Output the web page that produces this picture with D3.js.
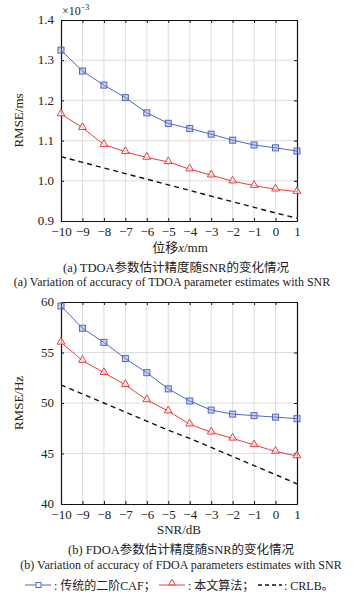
<!DOCTYPE html>
<html><head><meta charset="utf-8">
<script src="https://cdn.jsdelivr.net/npm/d3@7"></script>
<style>body{margin:0;background:#fff}svg{display:block}</style>
</head><body><svg id="c" width="355" height="597" font-family="'Liberation Serif','DejaVu Serif','Noto Sans CJK SC',serif"></svg>
<script>
const snr = [-10,-9,-8,-7,-6,-5,-4,-3,-2,-1,0,1];
const xTickLabels = ["\u221210","\u22129","\u22128","\u22127","\u22126","\u22125","\u22124","\u22123","\u22122","\u22121","0","1"];
// (a) TDOA, units of 1e-3 ms
const tdoaCAF  = [1.325,1.273,1.238,1.207,1.169,1.143,1.130,1.116,1.101,1.089,1.082,1.074];
const tdoaOurs = [1.166,1.132,1.090,1.072,1.058,1.047,1.029,1.014,0.999,0.988,0.979,0.973];
const tdoaCRLB = [1.060,1.046,1.032,1.018,1.004,0.990,0.976,0.962,0.948,0.934,0.920,0.907];
const tdoaYTicks = [0.9,1.0,1.1,1.2,1.3,1.4];
// (b) FDOA, Hz
const fdoaCAF  = [59.6,57.4,56.0,54.4,53.0,51.4,50.2,49.3,48.9,48.75,48.6,48.45];
const fdoaOurs = [56.0,54.2,53.0,51.8,50.3,49.2,47.9,47.1,46.5,45.85,45.2,44.75];
const fdoaCRLB = [51.8,50.9,50.0,49.1,48.2,47.3,46.5,45.6,44.7,43.8,42.9,42.0];
const fdoaYTicks = [40,45,50,55,60];

const FONT="'Liberation Serif','DejaVu Serif','Noto Sans CJK SC',serif";
const BLUE="#5066c8", RED="#ef3b3b";
const svg=d3.select("#c");

function panel(top,bottom,yDomain,yTicks,yFmt,caf,ours,crlb,yTitle){
  const x=d3.scaleLinear().domain([-10,1]).range([61,297]);
  const y=d3.scaleLinear().domain(yDomain).range([bottom,top]);
  const g=svg.append("g");
  g.selectAll(".vg").data(snr.slice(1,-1)).join("line").attr("x1",d=>x(d)).attr("x2",d=>x(d)).attr("y1",top).attr("y2",bottom).attr("stroke","#dcdcdc").attr("stroke-width",1);
  g.selectAll(".hg").data(yTicks.slice(1,-1)).join("line").attr("y1",d=>y(d)).attr("y2",d=>y(d)).attr("x1",x(-10)).attr("x2",x(1)).attr("stroke","#dcdcdc").attr("stroke-width",1);
  const xa=d3.axisBottom(x).tickValues(snr).tickFormat((d,i)=>xTickLabels[i]).tickSizeInner(-3).tickSizeOuter(0).tickPadding(6);
  const ya=d3.axisLeft(y).tickValues(yTicks).tickFormat(yFmt).tickSizeInner(-3).tickSizeOuter(0).tickPadding(7);
  const yr=d3.axisRight(y).tickValues(yTicks).tickFormat("").tickSizeInner(-3).tickSizeOuter(0);
  const xt=d3.axisTop(x).tickValues(snr).tickFormat("").tickSizeInner(-3).tickSizeOuter(0);
  const gx=g.append("g").attr("transform",`translate(0,${bottom})`).call(xa);
  const gy=g.append("g").attr("transform",`translate(${x(-10)},0)`).call(ya);
  g.append("g").attr("transform",`translate(${x(1)},0)`).call(yr);
  g.append("g").attr("transform",`translate(0,${top})`).call(xt);
  g.selectAll("g").attr("font-family",FONT);
  g.selectAll(".domain").attr("stroke","#111").attr("stroke-width",1.2);
  g.selectAll(".tick line").attr("stroke","#111");
  gx.selectAll("text").attr("font-size",13).attr("fill","#222");
  gy.selectAll("text").attr("font-size",13).attr("fill","#222").attr("dy","0.28em");
  g.append("text").attr("transform",`translate(23,${(top+bottom)/2}) rotate(-90)`).attr("text-anchor","middle").attr("font-size",13).attr("fill","#222").text(yTitle);
  const line=d3.line().x((d,i)=>x(snr[i])).y(d=>y(d));
  g.append("path").datum(crlb).attr("d",line).attr("fill","none").attr("stroke","#111").attr("stroke-width",1.4).attr("stroke-dasharray","5,4");
  g.append("path").datum(caf).attr("d",line).attr("fill","none").attr("stroke",BLUE).attr("stroke-width",1);
  g.append("path").datum(ours).attr("d",line).attr("fill","none").attr("stroke",RED).attr("stroke-width",1);
  g.selectAll(".sq").data(caf).join("rect").attr("x",(d,i)=>x(snr[i])-3).attr("y",d=>y(d)-3).attr("width",6).attr("height",6).attr("fill","rgba(120,140,215,0.35)").attr("stroke",BLUE).attr("stroke-width",1);
  const tri=d3.symbol().type(d3.symbolTriangle).size(26);
  g.selectAll(".tr").data(ours).join("path").attr("d",tri).attr("transform",(d,i)=>`translate(${x(snr[i])},${y(d)-0.5})`).attr("fill","rgba(255,255,255,0.6)").attr("stroke",RED).attr("stroke-width",1);
}

panel(20,221,[0.9,1.4],tdoaYTicks,d3.format(".1f"),tdoaCAF,tdoaOurs,tdoaCRLB,"RMSE/ms");
panel(302,504,[40,60],fdoaYTicks,d3.format("d"),fdoaCAF,fdoaOurs,fdoaCRLB,"RMSE/Hz");

const ex=svg.append("text").attr("x",62).attr("y",15).attr("font-size",12).attr("fill","#222");
ex.append("tspan").text("\u00d710");
ex.append("tspan").attr("dy",-5).attr("font-size",8).text("\u22123");

const t1=svg.append("text").attr("x",180).attr("y",252).attr("text-anchor","middle").attr("font-size",13).attr("fill","#222");
t1.append("tspan").text("位移");
t1.append("tspan").attr("font-style","italic").text("x");
t1.append("tspan").text("/mm");
svg.append("text").attr("x",179).attr("y",534).attr("text-anchor","middle").attr("font-size",13).attr("fill","#222").text("SNR/dB");

svg.append("text").attr("x",176).attr("y",272).attr("text-anchor","middle").attr("font-size",12.5).attr("fill","#222").text("(a) TDOA参数估计精度随SNR的变化情况");
svg.append("text").attr("x",172).attr("y",286).attr("text-anchor","middle").attr("font-size",12).attr("fill","#222").text("(a) Variation of accuracy of TDOA parameter estimates with SNR");
svg.append("text").attr("x",181).attr("y",554).attr("text-anchor","middle").attr("font-size",12.5).attr("fill","#222").text("(b) FDOA参数估计精度随SNR的变化情况");
svg.append("text").attr("x",181).attr("y",569).attr("text-anchor","middle").attr("font-size",12).attr("fill","#222").text("(b) Variation of accuracy of FDOA parameters estimates with SNR");

const ly=585;
const lg=svg.append("g");
lg.append("line").attr("x1",25).attr("x2",51).attr("y1",ly).attr("y2",ly).attr("stroke",BLUE).attr("stroke-width",1);
lg.append("rect").attr("x",36).attr("y",ly-2.5).attr("width",5).attr("height",5).attr("fill","#fff").attr("stroke",BLUE);
lg.append("text").attr("x",54).attr("y",ly+4.5).attr("font-size",12).attr("fill","#222").text(": 传统的二阶CAF；");
lg.append("line").attr("x1",159).attr("x2",185).attr("y1",ly).attr("y2",ly).attr("stroke",RED).attr("stroke-width",1);
lg.append("path").attr("d",d3.symbol().type(d3.symbolTriangle).size(18)).attr("transform",`translate(172,${ly-2})`).attr("fill","#fff").attr("stroke",RED);
lg.append("text").attr("x",188).attr("y",ly+4.5).attr("font-size",12).attr("fill","#222").text(": 本文算法；");
lg.append("line").attr("x1",258).attr("x2",282).attr("y1",ly).attr("y2",ly).attr("stroke","#111").attr("stroke-width",1.4).attr("stroke-dasharray","4,3");
lg.append("text").attr("x",284).attr("y",ly+4.5).attr("font-size",12).attr("fill","#222").text(": CRLB。");
</script></body></html>
